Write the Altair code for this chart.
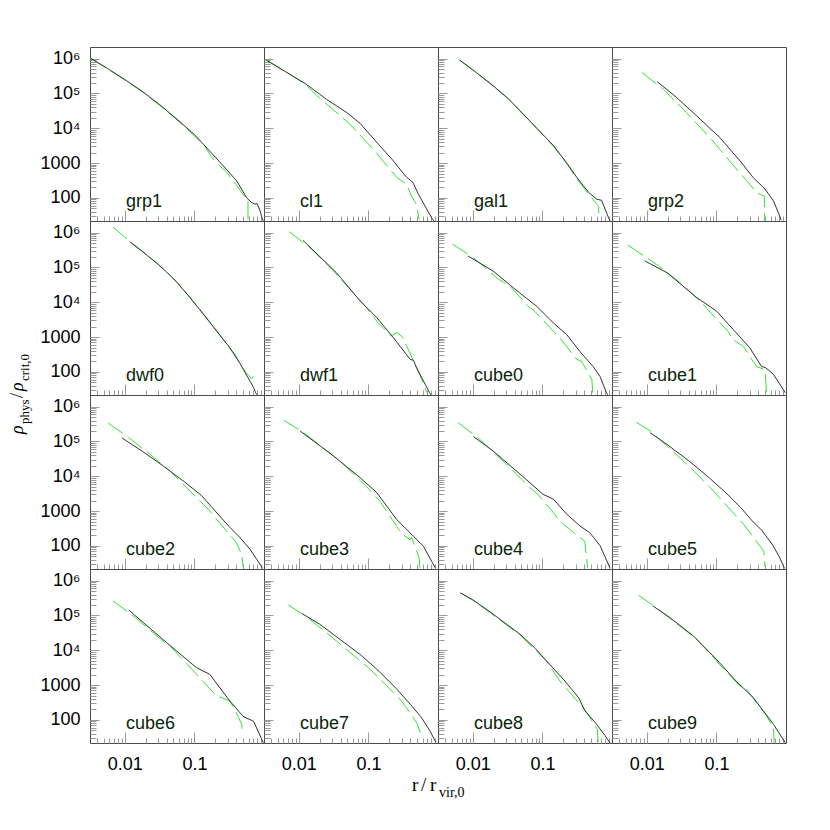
import altair as alt
import pandas as pd

# ---------------- data (log10 r / r_vir,0 , log10 rho / rho_crit,0) ----------------
PANELS = ["grp1", "cl1", "gal1", "grp2",
          "dwf0", "dwf1", "cube0", "cube1",
          "cube2", "cube3", "cube4", "cube5",
          "cube6", "cube7", "cube8", "cube9"]

grp1_black = [(-2.49, 6.01), (-2.25, 5.72), (-2.0, 5.40), (-1.75, 5.06), (-1.5, 4.68), (-1.25, 4.26),
              (-1.0, 3.82), (-0.75, 3.28), (-0.54, 2.82), (-0.39, 2.48), (-0.25, 2.00), (-0.18, 1.87),
              (-0.13, 1.82), (-0.10, 1.84), (-0.06, 1.65), (-0.03, 1.43), (-0.01, 1.34)]
grp1_green = [(-2.50, 6.02), (-2.25, 5.71), (-2.0, 5.39), (-1.75, 5.05), (-1.5, 4.66), (-1.25, 4.24),
              (-1.0, 3.78), (-0.85, 3.48), (-0.76, 3.20), (-0.70, 3.04), (-0.54, 2.75), (-0.40, 2.38),
              (-0.32, 2.15), (-0.25, 1.98), (-0.23, 1.95), (-0.23, 1.34)]

cl1_black = [(-2.46, 5.95), (-2.17, 5.60), (-1.89, 5.26), (-1.60, 4.83), (-1.31, 4.45), (-1.12, 4.14),
             (-0.86, 3.55), (-0.64, 3.06), (-0.47, 2.63), (-0.36, 2.44), (-0.28, 2.10), (-0.09, 1.42),
             (-0.06, 1.34)]
cl1_green = [(-2.46, 5.95), (-2.20, 5.645), (-1.94, 5.31), (-1.65, 4.78), (-1.26, 4.11), (-0.91, 3.35),
             (-0.59, 2.58), (-0.45, 2.39), (-0.38, 2.05), (-0.31, 1.81), (-0.27, 1.38)]

gal1_black = [(-2.19, 5.96), (-2.0, 5.68), (-1.75, 5.29), (-1.5, 4.87), (-1.32, 4.50), (-1.08, 4.00),
              (-0.84, 3.50), (-0.65, 3.00), (-0.51, 2.60), (-0.34, 2.17), (-0.22, 1.96), (-0.15, 1.93),
              (-0.05, 1.43), (-0.03, 1.34)]
gal1_green = [(-2.19, 5.96), (-2.0, 5.67), (-1.75, 5.28), (-1.5, 4.86), (-1.32, 4.49), (-1.08, 3.99),
              (-0.84, 3.48), (-0.65, 2.98), (-0.51, 2.56), (-0.34, 2.12), (-0.22, 1.82), (-0.19, 1.75),
              (-0.19, 1.40)]

grp2_black = [(-1.85, 5.34), (-1.57, 4.88), (-1.28, 4.35), (-0.95, 3.73), (-0.66, 3.06), (-0.47, 2.58),
              (-0.30, 2.25), (-0.18, 1.91), (-0.09, 1.48), (-0.07, 1.36)]
grp2_green = [(-2.07, 5.60), (-1.76, 5.12), (-1.43, 4.45), (-1.07, 3.68), (-0.73, 2.87), (-0.52, 2.39),
              (-0.42, 2.15), (-0.33, 2.06), (-0.31, 2.05), (-0.31, 1.34)]

dwf0_black = [(-1.93, 5.74), (-1.75, 5.46), (-1.54, 5.12), (-1.40, 4.87), (-1.25, 4.57), (-1.10, 4.22),
              (-0.92, 3.78), (-0.68, 3.17), (-0.49, 2.69), (-0.35, 2.26), (-0.15, 1.55), (-0.12, 1.40),
              (-0.10, 1.34)]
dwf0_green = [(-2.17, 6.16), (-1.93, 5.76), (-1.75, 5.47), (-1.54, 5.13), (-1.40, 4.88), (-1.25, 4.58),
              (-1.10, 4.23), (-0.92, 3.79), (-0.68, 3.19), (-0.49, 2.66), (-0.42, 2.52), (-0.35, 2.25),
              (-0.25, 1.95), (-0.22, 1.90), (-0.18, 1.80), (-0.15, 1.88)]

dwf1_black = [(-1.94, 5.78), (-1.46, 4.85), (-1.12, 4.04), (-0.88, 3.56), (-0.64, 2.98), (-0.40, 2.36),
              (-0.35, 2.33), (-0.31, 2.12), (-0.12, 1.40), (-0.10, 1.34)]
dwf1_green = [(-2.14, 6.03), (-1.84, 5.57), (-1.50, 4.90), (-1.03, 3.85), (-0.86, 3.41), (-0.67, 3.03),
              (-0.59, 3.13), (-0.51, 3.00), (-0.35, 2.31), (-0.28, 2.02), (-0.16, 1.40)]

cube0_black = [(-2.07, 5.33), (-1.71, 4.90), (-1.42, 4.42), (-1.08, 3.88), (-0.84, 3.40), (-0.65, 3.07),
               (-0.46, 2.58), (-0.27, 2.15), (-0.17, 1.86), (-0.08, 1.40), (-0.06, 1.34)]
cube0_green = [(-2.29, 5.67), (-1.99, 5.28), (-1.63, 4.66), (-1.47, 4.47), (-1.20, 3.88), (-1.11, 3.74),
               (-0.84, 3.16), (-0.75, 2.98), (-0.51, 2.36), (-0.44, 2.31), (-0.29, 1.79), (-0.28, 1.50),
               (-0.28, 1.34)]

cube1_black = [(-2.03, 5.19), (-1.71, 4.85), (-1.28, 4.13), (-1.00, 3.75), (-0.76, 3.22), (-0.52, 2.69),
               (-0.35, 2.15), (-0.30, 2.13), (-0.18, 1.93), (-0.01, 1.40)]
cube1_green = [(-2.27, 5.64), (-1.95, 5.21), (-1.84, 5.06), (-1.55, 4.61), (-1.44, 4.42), (-1.16, 3.88),
               (-1.08, 3.69), (-0.83, 3.16), (-0.76, 2.92), (-0.61, 2.73), (-0.49, 2.35), (-0.42, 2.15),
               (-0.30, 2.06), (-0.28, 1.37)]

cube2_black = [(-2.04, 5.10), (-1.75, 4.72), (-1.45, 4.30), (-1.15, 3.85), (-0.90, 3.45), (-0.70, 3.00),
               (-0.50, 2.55), (-0.35, 2.25), (-0.20, 1.90), (-0.10, 1.60), (-0.02, 1.35)]
cube2_green = [(-2.24, 5.53), (-1.95, 5.12), (-1.65, 4.65), (-1.35, 4.15), (-1.05, 3.55), (-0.80, 3.05),
               (-0.55, 2.45), (-0.40, 2.10), (-0.32, 1.75), (-0.30, 1.40)]

cube3_black = [(-1.98, 5.30), (-1.50, 4.58), (-1.12, 3.96), (-0.88, 3.53), (-0.59, 2.75), (-0.35, 2.27),
               (-0.21, 1.99), (-0.04, 1.37)]
cube3_green = [(-2.22, 5.61), (-1.96, 5.30), (-1.50, 4.58), (-1.38, 4.39), (-1.12, 3.88), (-1.03, 3.71),
               (-0.83, 3.27), (-0.59, 2.55), (-0.51, 2.33), (-0.40, 2.18), (-0.38, 2.24), (-0.31, 1.88),
               (-0.27, 1.63), (-0.26, 1.37)]

cube4_black = [(-1.99, 5.14), (-1.71, 4.73), (-1.32, 4.06), (-0.99, 3.48), (-0.84, 3.34), (-0.65, 2.91),
               (-0.46, 2.57), (-0.32, 2.38), (-0.17, 2.00), (-0.03, 1.37)]
cube4_green = [(-2.21, 5.54), (-1.90, 5.06), (-1.80, 4.87), (-1.54, 4.39), (-1.44, 4.20), (-1.18, 3.67),
               (-1.08, 3.51), (-0.84, 2.95), (-0.75, 2.71), (-0.48, 2.27), (-0.39, 2.13), (-0.35, 1.37)]

cube5_black = [(-1.95, 5.25), (-1.70, 4.90), (-1.40, 4.45), (-1.10, 3.95), (-0.85, 3.50), (-0.65, 3.10),
               (-0.50, 2.75), (-0.35, 2.45), (-0.20, 2.05), (-0.10, 1.70), (-0.02, 1.35)]
cube5_green = [(-2.15, 5.55), (-1.95, 5.30), (-1.70, 4.85), (-1.40, 4.30), (-1.10, 3.70), (-0.85, 3.15),
               (-0.60, 2.60), (-0.45, 2.20), (-0.32, 1.85), (-0.30, 1.40)]

cube6_black = [(-1.94, 5.15), (-1.40, 4.22), (-0.97, 3.50), (-0.78, 3.31), (-0.49, 2.54), (-0.30, 2.10),
               (-0.15, 1.96), (-0.01, 1.34)]
cube6_green = [(-2.17, 5.42), (-1.85, 4.94), (-1.76, 4.79), (-1.47, 4.29), (-1.36, 4.14), (-1.10, 3.59),
               (-1.02, 3.42), (-0.68, 2.68), (-0.61, 2.64), (-0.49, 2.54), (-0.42, 2.30), (-0.32, 1.87),
               (-0.31, 1.58)]

cube7_black = [(-1.95, 5.05), (-1.70, 4.75), (-1.40, 4.30), (-1.10, 3.85), (-0.85, 3.40), (-0.60, 2.90),
               (-0.40, 2.45), (-0.25, 2.10), (-0.12, 1.70), (-0.03, 1.35)]
cube7_green = [(-2.15, 5.30), (-1.90, 4.98), (-1.60, 4.50), (-1.30, 4.00), (-1.00, 3.50), (-0.75, 3.00),
               (-0.55, 2.60), (-0.40, 2.20), (-0.30, 1.90), (-0.25, 1.60)]

cube8_black = [(-2.18, 5.65), (-2.0, 5.45), (-1.75, 5.10), (-1.55, 4.80), (-1.32, 4.46), (-1.10, 4.05),
               (-0.94, 3.69), (-0.70, 3.17), (-0.48, 2.64), (-0.39, 2.26), (-0.24, 1.92), (-0.10, 1.55),
               (-0.03, 1.34)]
cube8_green = [(-2.18, 5.65), (-2.0, 5.44), (-1.75, 5.08), (-1.55, 4.78), (-1.32, 4.44), (-1.10, 4.00),
               (-0.94, 3.70), (-0.80, 3.26), (-0.72, 3.04), (-0.60, 2.78), (-0.48, 2.49), (-0.39, 2.30),
               (-0.21, 1.72), (-0.20, 1.37)]

cube9_black = [(-1.91, 5.27), (-1.67, 4.94), (-1.33, 4.41), (-1.00, 3.74), (-0.71, 3.10), (-0.47, 2.64),
               (-0.25, 2.06), (-0.18, 1.87), (-0.01, 1.34)]
cube9_green = [(-2.12, 5.58), (-1.91, 5.29), (-1.43, 4.55), (-1.28, 4.31), (-1.04, 3.79), (-0.96, 3.60),
               (-0.66, 2.97), (-0.57, 2.88), (-0.37, 2.35), (-0.28, 2.11), (-0.18, 1.78), (-0.17, 1.34)]

SERIES = {name: (globals()[name + "_black"], globals()[name + "_green"]) for name in PANELS}

X_DOMAIN = [10 ** -2.5, 1.0]
Y_DOMAIN = [10 ** 1.335, 10 ** 6.335]
X_TICKS = [0.004, 0.005, 0.006, 0.007, 0.008, 0.009, 0.01, 0.02, 0.03, 0.04, 0.05, 0.06, 0.07, 0.08,
           0.09, 0.1, 0.2, 0.3, 0.4, 0.5, 0.6, 0.7, 0.8, 0.9]
Y_TICKS = [30, 40, 50, 60, 70, 80, 90, 100, 200, 300, 400, 500, 600, 700, 800, 900,
           1000, 2000, 3000, 4000, 5000, 6000, 7000, 8000, 9000,
           10000, 20000, 30000, 40000, 50000, 60000, 70000, 80000, 90000,
           100000, 200000, 300000, 400000, 500000, 600000, 700000, 800000, 900000,
           1000000]

# ---------------- styling ----------------
W = 174
H = 174
SANS = "Liberation Sans"
SERIF = "Liberation Serif"
TICK_GRAY = "#9a9a9a"
BLACK_LINE = "#333333"
GREEN_LINE = "#2ee62e"
LABEL_COLOR = "#0a260a"

Y_LABEL_EXPR = ("datum.value == 1000000 ? '10\u2076' : datum.value == 100000 ? '10\u2075' : "
                "datum.value == 10000 ? '10\u2074' : datum.value == 1000 ? '1000' : "
                "datum.value == 100 ? '100' : ''")
X_LABEL_EXPR = "datum.value == 0.01 ? '0.01' : datum.value == 0.1 ? '0.1' : ''"
Y_MAJOR = "indexof([100, 1000, 10000, 100000, 1000000], datum.value) >= 0"
X_MAJOR = "datum.value == 0.01 || datum.value == 0.1"


def y_axis(show):
    return alt.Axis(values=Y_TICKS, labels=show, labelExpr=Y_LABEL_EXPR, labelOverlap=False,
                    labelFont=SANS, labelFontSize=18, labelColor="black", labelPadding=10,
                    ticks=False, domain=False, grid=True, gridColor=TICK_GRAY, gridWidth=1,
                    gridDash={"condition": {"test": Y_MAJOR, "value": [9, 3000]}, "value": [6, 3000]},
                    title=None)


def x_axis(show):
    return alt.Axis(values=X_TICKS, labels=show, labelExpr=X_LABEL_EXPR, labelOverlap=False,
                    labelFont=SANS, labelFontSize=18, labelColor="black", labelPadding=12,
                    labelFlush=False,
                    ticks=False, domain=False, grid=True, gridColor=TICK_GRAY, gridWidth=1,
                    gridDash={"condition": {"test": X_MAJOR, "value": [0, H - 11, 11, 3000]},
                              "value": [0, H - 5, 5, 3000]},
                    title=None)


def text_piece(txt, x, y, size, angle=0, italic=False, font=SERIF, color="black"):
    return alt.Chart(pd.DataFrame({"t": [txt]})).mark_text(
        text=txt, font=font, fontSize=size, align="left", baseline="alphabetic",
        angle=angle, fontStyle="italic" if italic else "normal", color=color
    ).encode(x=alt.value(x), y=alt.value(y))


panels = []
for idx, name in enumerate(PANELS):
    row, col = divmod(idx, 4)
    black, green = SERIES[name]
    dfb = pd.DataFrame({"r": [10 ** p[0] for p in black], "rho": [10 ** p[1] for p in black],
                        "i": list(range(len(black)))})
    dfg = pd.DataFrame({"r": [10 ** p[0] for p in green], "rho": [10 ** p[1] for p in green],
                        "i": list(range(len(green)))})
    xenc = alt.X("r:Q", scale=alt.Scale(type="log", domain=X_DOMAIN, nice=False), axis=x_axis(row == 3))
    yenc = alt.Y("rho:Q", scale=alt.Scale(type="log", domain=Y_DOMAIN, nice=False), axis=y_axis(col == 0))
    gline = alt.Chart(dfg).mark_line(color=GREEN_LINE, strokeWidth=1, strokeDash=[18, 6], clip=True).encode(
        x=xenc, y=yenc, order="i:Q")
    bline = alt.Chart(dfb).mark_line(color=BLACK_LINE, strokeWidth=1, clip=True).encode(
        x=xenc, y=yenc, order="i:Q")
    layers = [gline, bline,
              text_piece(name, 36, 160, 18, font=SANS, color=LABEL_COLOR)]
    if name == "dwf0":
        # y-axis title  rho_phys / rho_crit,0  (rotated)
        layers += [
            text_piece("\u03c1", -67, 213, 18, angle=270, italic=True),
            text_piece("phys", -61, 203, 13, angle=270),
            text_piece("/", -67, 177, 18, angle=270),
            text_piece("\u03c1", -67, 170, 18, angle=270, italic=True),
            text_piece("crit,0", -61, 160, 13, angle=270),
        ]
    if name == "cube6":
        # x-axis title  r / r_vir,0
        layers += [
            text_piece("r", 322, 222, 19),
            text_piece("/", 331, 222, 19),
            text_piece("r", 340, 222, 19),
            text_piece("vir,0", 349, 228, 14),
        ]
    panel = alt.layer(*layers).properties(width=W, height=H)
    panels.append(panel)

chart = alt.concat(*panels, columns=4, spacing=0, bounds="flush").configure_view(
    stroke="#4a4a4a", strokeWidth=1
).properties(
    padding={"left": 0, "top": 38, "right": 5, "bottom": 5}
)

chart.save("out.html", embed_options={"renderer": "svg", "actions": False})
